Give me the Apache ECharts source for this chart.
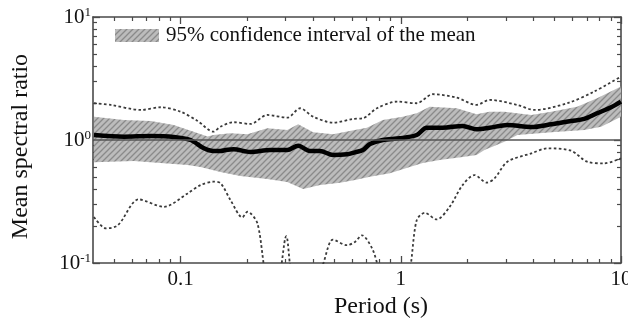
<!DOCTYPE html>
<html><head><meta charset="utf-8">
<script src="https://cdn.jsdelivr.net/npm/echarts@6/dist/echarts.min.js"></script>
<style>html,body{margin:0;padding:0;background:#fff}#c{width:628px;height:325px}</style>
</head><body><div id="c"></div>
<script>
// ---- data ----
const meanPeriod = [0.0404, 0.0552, 0.0732, 0.093, 0.111, 0.127, 0.141, 0.152, 0.16, 0.174, 0.207, 0.255, 0.305, 0.342, 0.387, 0.43, 0.492, 0.57, 0.619, 0.673, 0.724, 0.829, 0.99, 1.181, 1.311, 1.549, 1.908, 2.207, 2.527, 3.049, 3.915, 4.823, 5.941, 6.802, 7.788, 9.013, 10];
const meanRatio = [1.098, 1.064, 1.078, 1.06, 1.0, 0.861, 0.814, 0.814, 0.829, 0.84, 0.798, 0.829, 0.829, 0.899, 0.814, 0.814, 0.755, 0.765, 0.794, 0.829, 0.928, 1.0, 1.032, 1.098, 1.259, 1.259, 1.3, 1.222, 1.259, 1.325, 1.276, 1.342, 1.428, 1.483, 1.65, 1.846, 2.051];

const upperPeriod = [0.0404, 0.0482, 0.0659, 0.0812, 0.1, 0.1194, 0.141, 0.1517, 0.1737, 0.2074, 0.2476, 0.305, 0.3491, 0.3997, 0.4924, 0.6064, 0.673, 0.779, 0.9592, 1.181, 1.396, 1.792, 2.207, 2.527, 3.383, 4.04, 5.698, 7.548, 10];
const upperRatio = [1.99, 1.928, 1.755, 1.846, 1.70, 1.428, 1.169, 1.283, 1.394, 1.35, 1.598, 1.519, 1.812, 1.548, 1.383, 1.483, 1.502, 1.812, 2.051, 1.99, 2.356, 2.211, 1.928, 2.117, 1.928, 1.755, 1.99, 2.474, 3.28];

const lowerPeriod = [0.0404, 0.0458, 0.0519, 0.0646, 0.0838, 0.1076, 0.1232, 0.141, 0.1517, 0.1684, 0.1908, 0.201, 0.223, 0.25, 0.275, 0.3018, 0.33, 0.425, 0.4924, 0.5697, 0.6191, 0.666, 0.74, 0.85, 1.05, 1.181, 1.284, 1.455, 1.666, 1.908, 2.162, 2.46, 2.664, 3.049, 3.915, 4.626, 5.941, 7.018, 8.378, 10];
const lowerRatio = [0.237, 0.191, 0.203, 0.329, 0.286, 0.368, 0.43, 0.458, 0.446, 0.325, 0.235, 0.261, 0.211, 0.075, 0.075, 0.165, 0.075, 0.085, 0.155, 0.1396, 0.1485, 0.168, 0.132, 0.075, 0.075, 0.223, 0.256, 0.226, 0.286, 0.43, 0.519, 0.45, 0.488, 0.666, 0.779, 0.856, 0.818, 0.666, 0.646, 0.71];

const ciUpperPeriod = [0.0404, 0.0552, 0.0732, 0.093, 0.1145, 0.1325, 0.141, 0.1684, 0.201, 0.2476, 0.305, 0.342, 0.3997, 0.4924, 0.6191, 0.7018, 0.829, 1.021, 1.181, 1.353, 1.792, 2.207, 2.527, 2.955, 3.915, 4.823, 6.323, 7.788, 10];
const ciUpperRatio = [1.548, 1.455, 1.428, 1.325, 1.169, 1.07, 1.098, 1.134, 1.113, 1.245, 1.206, 1.342, 1.155, 1.113, 1.206, 1.259, 1.455, 1.548, 1.65, 1.867, 1.812, 1.62, 1.70, 1.70, 1.598, 1.70, 1.867, 2.186, 2.72];
const ciLowerPeriod = [0.0404, 0.0613, 0.1076, 0.1232, 0.1517, 0.1868, 0.2476, 0.305, 0.3602, 0.43, 0.5297, 0.6191, 0.724, 0.8918, 1.098, 1.258, 1.5, 1.908, 2.207, 2.399, 2.955, 3.383, 4.823, 6.802, 8.12, 10];
const ciLowerRatio = [0.66, 0.675, 0.626, 0.603, 0.549, 0.509, 0.481, 0.455, 0.399, 0.43, 0.449, 0.472, 0.503, 0.536, 0.603, 0.65, 0.687, 0.727, 0.755, 0.829, 0.969, 1.098, 1.155, 1.206, 1.283, 1.548];

const referenceRatio = 1;
const xRange = [0.04, 10];
const yRange = [0.1, 10];
const xTickValues = [0.1, 1, 10];
const xTickLabels = ['0.1', '1', '10'];
const yTickValues = [0.1, 1, 10];
const yTickExponents = ['-1', '0', '1'];
const xMinorTicks = [0.05, 0.06, 0.07, 0.08, 0.09, 0.2, 0.3, 0.4, 0.5, 0.6, 0.7, 0.8, 0.9, 2, 3, 4, 5, 6, 7, 8, 9];
const yMinorTicks = [0.2, 0.3, 0.4, 0.5, 0.6, 0.7, 0.8, 0.9, 2, 3, 4, 5, 6, 7, 8, 9];
const legendName = '95% confidence interval of the mean';
const xName = 'Period (s)';
const yName = 'Mean spectral ratio';

// ---- styling ----
const FONT = '"Liberation Serif", "DejaVu Serif", serif';
const FRAME = '#4a4a4a';

function hatchPattern() {
  const s = 6;
  const c = document.createElement('canvas'); c.width = s; c.height = s;
  const g = c.getContext('2d');
  g.fillStyle = '#bcbcbc'; g.fillRect(0, 0, s, s);
  g.strokeStyle = '#8a8a8a'; g.lineWidth = 1.3;
  g.beginPath();
  g.moveTo(-1, s + 1); g.lineTo(s + 1, -1);
  g.moveTo(-2, 2); g.lineTo(2, -2);
  g.moveTo(s - 2, s + 2); g.lineTo(s + 2, s - 2);
  g.stroke();
  return { image: c, repeat: 'repeat' };
}
const hatch = hatchPattern();

function pairs(xs, ys) { return xs.map((x, i) => [x, ys[i]]); }
function near(v, arr) { return arr.findIndex(a => Math.abs(a - v) / a < 1e-6); }

const gridRect = { left: 93, right: 7, top: 17, bottom: 62, outerBoundsMode: 'none', containLabel: false };

const chart = echarts.init(document.getElementById('c'), null, { renderer: 'canvas' });
chart.setOption({
  animation: false,
  backgroundColor: '#fff',
  grid: [Object.assign({}, gridRect), Object.assign({}, gridRect)],
  legend: {
    left: 115, top: 25, padding: 0, itemWidth: 44, itemHeight: 13,
    data: [{ name: legendName, icon: 'rect', itemStyle: { color: hatch } }],
    textStyle: { fontFamily: FONT, fontSize: 21, color: '#111', padding: [0, 0, 0, 2] },
    selectedMode: false
  },
  xAxis: [
    { type: 'log', gridIndex: 0, position: 'bottom', min: xRange[0], max: xRange[1],
      name: xName, nameLocation: 'middle', nameGap: 29,
      nameTextStyle: { fontFamily: FONT, fontSize: 24, color: '#111', padding: [0, 0, 0, 48] },
      axisLine: { show: true, lineStyle: { color: FRAME, width: 1.6 } },
      axisTick: { show: true, inside: true, length: 7, customValues: xTickValues, lineStyle: { color: FRAME, width: 1.3 } },
      axisLabel: { margin: 6, fontFamily: FONT, fontSize: 21, color: '#111', showMinLabel: true, showMaxLabel: true,
        customValues: xTickValues,
        formatter: v => { const i = near(v, xTickValues); return i < 0 ? '' : xTickLabels[i]; } },
      splitLine: { show: false } },
    { type: 'log', gridIndex: 0, position: 'top', min: xRange[0], max: xRange[1],
      axisLine: { show: true, lineStyle: { color: FRAME, width: 1.6 } },
      axisTick: { show: true, inside: true, length: 7, customValues: xTickValues, lineStyle: { color: FRAME, width: 1.3 } },
      axisLabel: { show: false }, splitLine: { show: false } },
    { type: 'log', gridIndex: 1, position: 'bottom', min: xRange[0], max: xRange[1],
      axisLine: { show: false },
      axisTick: { show: true, inside: true, length: 4, customValues: xMinorTicks, lineStyle: { color: FRAME, width: 1.2 } },
      axisLabel: { show: false }, splitLine: { show: false } },
    { type: 'log', gridIndex: 1, position: 'top', min: xRange[0], max: xRange[1],
      axisLine: { show: false },
      axisTick: { show: true, inside: true, length: 4, customValues: xMinorTicks, lineStyle: { color: FRAME, width: 1.2 } },
      axisLabel: { show: false }, splitLine: { show: false } }
  ],
  yAxis: [
    { type: 'log', gridIndex: 0, position: 'left', min: yRange[0], max: yRange[1],
      name: yName, nameLocation: 'middle', nameGap: 60,
      nameTextStyle: { fontFamily: FONT, fontSize: 24, color: '#111', padding: [0, 13, 0, 0] },
      axisLine: { show: true, lineStyle: { color: FRAME, width: 1.6 } },
      axisTick: { show: true, inside: true, length: 7, lineStyle: { color: FRAME, width: 1.3 } },
      axisLabel: { margin: 2, color: '#111',
        formatter: v => { const i = near(v, yTickValues); return i < 0 ? '' : '{b|10}{s|' + yTickExponents[i] + '}'; },
        rich: { b: { fontFamily: FONT, fontSize: 21, color: '#111' },
                s: { fontFamily: FONT, fontSize: 13, color: '#111', padding: [0, 0, 9, 0] } } },
      splitLine: { show: false } },
    { type: 'log', gridIndex: 0, position: 'right', min: yRange[0], max: yRange[1],
      axisLine: { show: true, lineStyle: { color: FRAME, width: 1.6 } },
      axisTick: { show: true, inside: true, length: 7, lineStyle: { color: FRAME, width: 1.3 } },
      axisLabel: { show: false }, splitLine: { show: false } },
    { type: 'log', gridIndex: 1, position: 'left', min: yRange[0], max: yRange[1],
      axisLine: { show: false },
      axisTick: { show: true, inside: true, length: 4, customValues: yMinorTicks, lineStyle: { color: FRAME, width: 1.2 } },
      axisLabel: { show: false }, splitLine: { show: false } },
    { type: 'log', gridIndex: 1, position: 'right', min: yRange[0], max: yRange[1],
      axisLine: { show: false },
      axisTick: { show: true, inside: true, length: 4, customValues: yMinorTicks, lineStyle: { color: FRAME, width: 1.2 } },
      axisLabel: { show: false }, splitLine: { show: false } }
  ],
  series: [
    { type: 'custom', name: legendName, xAxisIndex: 0, yAxisIndex: 0, z: 1, silent: true,
      itemStyle: { color: hatch },
      data: [[ciUpperPeriod[0], ciUpperRatio[0]]],
      renderItem: function (params, api) {
        if (params.dataIndex !== 0) return null;
        const pts = [];
        for (let i = 0; i < ciUpperPeriod.length; i++) pts.push(api.coord([ciUpperPeriod[i], ciUpperRatio[i]]));
        for (let i = ciLowerPeriod.length - 1; i >= 0; i--) pts.push(api.coord([ciLowerPeriod[i], ciLowerRatio[i]]));
        return { type: 'polygon', shape: { points: pts }, style: { fill: hatch } };
      } },
    { type: 'line', name: 'upper', xAxisIndex: 0, yAxisIndex: 0, z: 2, silent: true,
      data: pairs(upperPeriod, upperRatio), showSymbol: false, symbol: 'none', smooth: 0.3,
      lineStyle: { color: '#3a3a3a', width: 1.8, type: [2.6, 2.4] } },
    { type: 'line', name: 'lower', xAxisIndex: 0, yAxisIndex: 0, z: 2, silent: true, clip: true,
      data: pairs(lowerPeriod, lowerRatio), showSymbol: false, symbol: 'none', smooth: 0.3,
      lineStyle: { color: '#3a3a3a', width: 1.8, type: [2.6, 2.4] },
      markLine: { silent: true, symbol: 'none', label: { show: false },
        lineStyle: { color: '#555', width: 1.6, type: 'solid' },
        data: [{ yAxis: referenceRatio }] } },
    { type: 'line', name: 'mean', xAxisIndex: 0, yAxisIndex: 0, z: 3, silent: true,
      data: pairs(meanPeriod, meanRatio), showSymbol: false, symbol: 'none', smooth: 0.3,
      lineStyle: { color: '#000', width: 4.5 } }
  ]
});
</script></body></html>
